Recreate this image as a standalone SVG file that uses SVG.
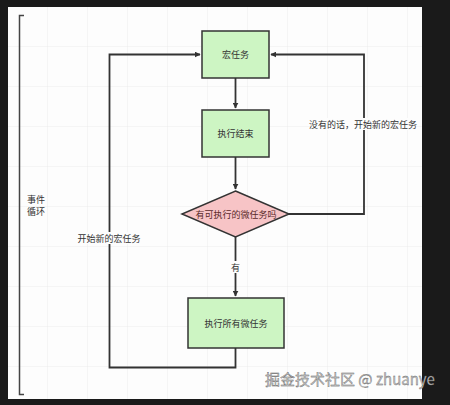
<svg xmlns="http://www.w3.org/2000/svg" width="450" height="405" viewBox="0 0 450 405">
<defs>
<pattern id="grid" width="40" height="40" patternUnits="userSpaceOnUse" x="8" y="7">
<path d="M40 0V40M0 40H40" fill="none" stroke="#ececec" stroke-width="1"/>
</pattern>
<marker id="arr" viewBox="0 0 10 10" refX="9" refY="5" markerWidth="6" markerHeight="6" orient="auto" markerUnits="userSpaceOnUse">
<path d="M0 0L10 5L0 10Z" fill="#333"/>
</marker>
<style>
.box{fill:#cdf5c3;stroke:#333;stroke-width:1.5}
.dia{fill:#f7c4c6;stroke:#333;stroke-width:1.5}
.t{font-family:"Noto Sans CJK SC","Liberation Sans",sans-serif;font-size:9px;fill:#333;text-anchor:middle;dominant-baseline:central}
.c{fill:none;stroke:#333;stroke-width:1.8}
.bg{fill:#fdfdfd}
</style>
</defs>
<rect width="450" height="405" fill="#1a1a1a"/>
<rect x="8" y="7" width="414" height="392" fill="#fdfdfd"/>
<rect x="8" y="7" width="414" height="392" fill="url(#grid)"/>
<g id="bracket">
<path d="M24 15.5H19.5V394.5H24" fill="none" stroke="#444" stroke-width="1.5"/>
<text class="t" x="27" y="199" style="text-anchor:start">事件</text>
<text class="t" x="27" y="211" style="text-anchor:start">循环</text>
</g>
<g id="connectors">
<path class="c" d="M235.5 78V108" marker-end="url(#arr)"/>
<path class="c" d="M235.5 157V189" marker-end="url(#arr)"/>
<path class="c" d="M235.5 237V296" marker-end="url(#arr)"/>
<path class="c" d="M235.5 348V367.5H109.5V54.5H200" marker-end="url(#arr)"/>
<path class="c" d="M289 214H364V54.5H271" marker-end="url(#arr)"/>
<rect class="bg" x="229" y="261" width="13" height="12"/>
<text class="t" x="235.5" y="267">有</text>
<rect class="bg" x="311" y="118" width="106" height="12"/>
<text class="t" x="363" y="124">没有的话，开始新的宏任务</text>
<rect class="bg" x="77" y="232" width="64" height="12"/>
<text class="t" x="109" y="238">开始新的宏任务</text>
</g>
<g id="macro">
<rect class="box" x="202" y="31" width="67" height="47"/>
<text class="t" x="235.5" y="54.5">宏任务</text>
</g>
<g id="done">
<rect class="box" x="202" y="110" width="67" height="47"/>
<text class="t" x="235.5" y="133.5">执行结束</text>
</g>
<g id="check">
<path class="dia" d="M235.5 191L289 214L235.5 237L182 214Z"/>
<text class="t" x="236" y="214" style="fill:#5a2a2a">有可执行的微任务吗</text>
</g>
<g id="micro">
<rect class="box" x="188" y="298" width="96" height="50"/>
<text class="t" x="236" y="323">执行所有微任务</text>
</g>
<text x="265" y="385" font-family="Noto Sans CJK SC, Liberation Sans, sans-serif" font-size="15" fill="#c4c4c4" stroke="#555" stroke-width="0.3">掘金技术社区 @ zhuanye</text>
</svg>
